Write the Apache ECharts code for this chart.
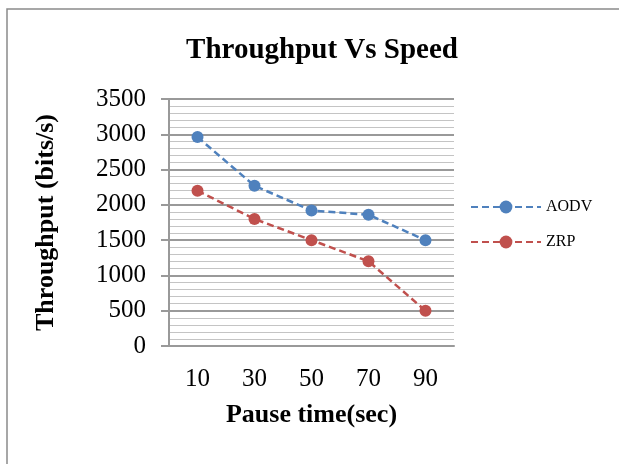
<!DOCTYPE html>
<html>
<head>
<meta charset="utf-8">
<script src="https://cdn.jsdelivr.net/npm/echarts@6/dist/echarts.min.js"></script>
<style>
  html, body { margin: 0; padding: 0; background: #fff; }
  #chart { width: 619px; height: 464px; }
</style>
</head>
<body>
<div id="chart"></div>
<script>
  var pauseTimes = ['10', '30', '50', '70', '90'];
  var aodv = [2960, 2270, 1920, 1860, 1500];
  var zrp = [2200, 1800, 1500, 1200, 500];

  var serif = '"Liberation Serif", "Times New Roman", serif';

  var myChart = echarts.init(document.getElementById('chart'));

  var option = {
    backgroundColor: '#ffffff',
    animation: false,
    textStyle: { fontFamily: serif },
    title: {
      text: 'Throughput Vs Speed',
      left: 317,
      top: 31,
      textAlign: 'center',
      textStyle: { fontFamily: serif, fontWeight: 'bold', fontSize: 29, color: '#000' }
    },
    // 外框
    graphic: [{
      type: 'rect',
      shape: { x: 7, y: 9, width: 700, height: 700 },
      style: { fill: 'none', stroke: '#8a8a8a', lineWidth: 1.5 },
      silent: true
    }],
    legend: {
      orient: 'vertical',
      left: 470,
      top: 199,
      padding: 0,
      itemWidth: 70,
      itemHeight: 16,
      itemGap: 19,
      textStyle: { fontFamily: serif, fontSize: 16, color: '#000' },
      data: ['AODV', 'ZRP']
    },
    grid: {
      left: 169,
      right: 165,
      top: 99,
      bottom: 118,
      containLabel: false
    },
    xAxis: {
      type: 'category',
      data: pauseTimes,
      boundaryGap: true,
      name: 'Pause time(sec)',
      nameLocation: 'middle',
      nameGap: 56,
      nameTextStyle: { fontFamily: serif, fontWeight: 'bold', fontSize: 26, color: '#000' },
      axisLine: { show: true, lineStyle: { color: '#999', width: 2 } },
      axisTick: { show: false },
      axisLabel: { margin: 21, fontSize: 25, color: '#000', fontFamily: serif }
    },
    yAxis: {
      type: 'value',
      min: 0,
      max: 3500,
      interval: 500,
      name: 'Throughput (bits/s)',
      nameLocation: 'middle',
      nameGap: 110,
      nameTextStyle: { fontFamily: serif, fontWeight: 'bold', fontSize: 26, color: '#000' },
      axisLine: { show: true, lineStyle: { color: '#999', width: 2 } },
      axisTick: { show: true, length: 8, lineStyle: { color: '#999', width: 2 } },
      axisLabel: {
        margin: 23, fontSize: 25, color: '#000', fontFamily: serif,
        formatter: function (v) { return String(v); }
      },
      splitLine: { show: true, lineStyle: { color: '#999', width: 2 } },
      minorTick: { show: false, splitNumber: 5 },
      minorSplitLine: { show: true, lineStyle: { color: '#c4c4c4', width: 1 } }
    },
    series: [{
      name: 'AODV',
      type: 'line',
      data: aodv,
      symbol: 'circle',
      symbolSize: 12,
      itemStyle: { color: '#4F81BD' },
      lineStyle: { color: '#4F81BD', width: 2.5, type: [7, 4] }
    }, {
      name: 'ZRP',
      type: 'line',
      data: zrp,
      symbol: 'circle',
      symbolSize: 12,
      itemStyle: { color: '#C0504D' },
      lineStyle: { color: '#C0504D', width: 2.5, type: [7, 4] }
    }]
  };

  myChart.setOption(option);
</script>
</body>
</html>
